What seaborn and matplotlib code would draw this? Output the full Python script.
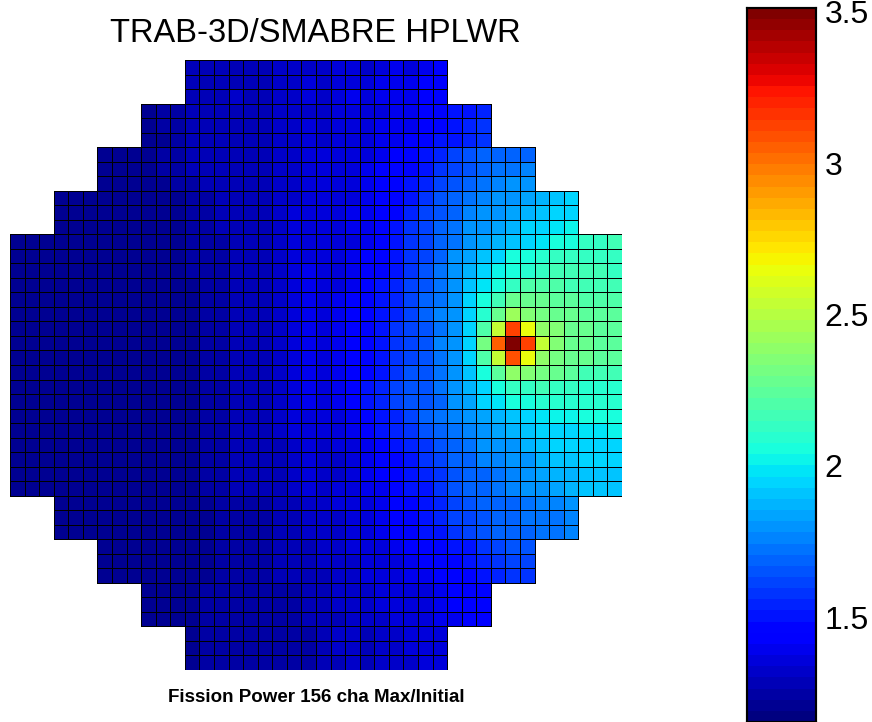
import numpy as np
import pandas as pd
import matplotlib
matplotlib.use('Agg')
import matplotlib.pyplot as plt
from matplotlib.colors import ListedColormap
import seaborn as sns

# Fission power, max/initial, for the 42x42 sub-channel grid (156 channels, 3x3 cells each)
N = np.nan
fission_power = [
    [N]*12 + [1.29,1.28,1.29,1.30,1.29,1.28,1.32,1.31,1.33, 1.31,1.35,1.37,1.33,1.37,1.39,1.37,1.41,1.43] + [N]*12,
    [N]*12 + [1.29,1.29,1.29,1.30,1.30,1.29,1.32,1.32,1.34, 1.32,1.35,1.37,1.34,1.38,1.40,1.38,1.42,1.44] + [N]*12,
    [N]*12 + [1.30,1.29,1.30,1.31,1.30,1.29,1.33,1.32,1.34, 1.32,1.36,1.38,1.35,1.39,1.41,1.40,1.44,1.46] + [N]*12,
    [N]*9 + [1.22,1.23,1.25,1.28,1.28,1.29,1.30,1.29,1.28,1.32,1.31,1.33, 1.31,1.34,1.35,1.34,1.37,1.39,1.39,1.43,1.46,1.49,1.52,1.55] + [N]*9,
    [N]*9 + [1.22,1.23,1.24,1.28,1.29,1.29,1.30,1.30,1.29,1.32,1.32,1.34, 1.32,1.35,1.36,1.35,1.38,1.40,1.41,1.44,1.47,1.50,1.53,1.56] + [N]*9,
    [N]*9 + [1.22,1.22,1.24,1.28,1.29,1.30,1.30,1.30,1.29,1.33,1.32,1.34, 1.33,1.36,1.37,1.36,1.39,1.41,1.43,1.46,1.49,1.52,1.55,1.58] + [N]*9,
    [N]*6 + [1.20,1.21,1.21,1.22,1.23,1.24,1.27,1.28,1.28,1.29,1.29,1.28,1.32,1.32,1.34, 1.34,1.34,1.35,1.37,1.40,1.43,1.46,1.49,1.55,1.61,1.64,1.67,1.67,1.70,1.70] + [N]*6,
    [N]*6 + [1.20,1.21,1.21,1.22,1.23,1.23,1.27,1.28,1.29,1.29,1.30,1.28,1.32,1.33,1.34, 1.34,1.35,1.36,1.38,1.42,1.45,1.48,1.52,1.58,1.63,1.66,1.70,1.72,1.73,1.75] + [N]*6,
    [N]*6 + [1.20,1.20,1.21,1.22,1.22,1.23,1.26,1.27,1.28,1.29,1.30,1.28,1.32,1.33,1.35, 1.34,1.36,1.37,1.39,1.43,1.46,1.50,1.55,1.61,1.66,1.70,1.73,1.75,1.78,1.78] + [N]*6,
    [N]*3 + [1.19,1.19,1.20,1.20,1.20,1.21,1.21,1.22,1.22,1.25,1.26,1.27,1.28,1.29,1.28,1.32,1.33,1.35, 1.34,1.37,1.37,1.38,1.43,1.46,1.52,1.58,1.64,1.67,1.73,1.75,1.78,1.81,1.84,1.87,1.90,1.93] + [N]*3,
    [N]*3 + [1.19,1.19,1.20,1.20,1.20,1.21,1.21,1.21,1.22,1.24,1.26,1.27,1.28,1.29,1.28,1.32,1.34,1.36, 1.34,1.37,1.38,1.39,1.44,1.48,1.54,1.60,1.66,1.70,1.75,1.78,1.81,1.84,1.87,1.90,1.93,1.96] + [N]*3,
    [N]*3 + [1.19,1.19,1.19,1.20,1.20,1.20,1.21,1.21,1.21,1.24,1.25,1.27,1.28,1.29,1.28,1.32,1.34,1.36, 1.34,1.37,1.38,1.40,1.46,1.49,1.56,1.61,1.67,1.73,1.78,1.81,1.84,1.87,1.93,1.96,1.99,2.02] + [N]*3,
    [1.19,1.19,1.19,1.19,1.20,1.20,1.20,1.20,1.21,1.21,1.21,1.20,1.23,1.25,1.26,1.28,1.29,1.28,1.32,1.34,1.37, 1.34,1.37,1.37,1.40,1.46,1.49,1.58,1.61,1.67,1.73,1.78,1.84,1.87,1.90,1.96,1.99,2.05,2.05,2.14,2.14,2.17],
    [1.19,1.19,1.19,1.19,1.19,1.20,1.20,1.20,1.21,1.21,1.21,1.20,1.23,1.25,1.26,1.28,1.29,1.28,1.32,1.35,1.37, 1.34,1.37,1.38,1.42,1.47,1.51,1.58,1.61,1.70,1.78,1.84,1.90,1.96,2.05,2.05,2.11,2.14,2.14,2.14,2.14,2.14],
    [1.19,1.19,1.19,1.19,1.19,1.20,1.20,1.20,1.20,1.21,1.21,1.20,1.23,1.24,1.26,1.28,1.28,1.28,1.32,1.35,1.38, 1.34,1.37,1.38,1.42,1.47,1.51,1.58,1.64,1.73,1.81,1.87,1.96,2.02,2.05,2.11,2.14,2.17,2.17,2.17,2.17,2.14],
    [1.19,1.19,1.19,1.19,1.19,1.19,1.20,1.20,1.20,1.21,1.21,1.20,1.22,1.24,1.25,1.27,1.28,1.28,1.32,1.35,1.39, 1.34,1.37,1.40,1.46,1.49,1.55,1.61,1.64,1.73,1.81,1.90,1.99,2.05,2.14,2.20,2.20,2.20,2.17,2.17,2.17,2.17],
    [1.19,1.19,1.19,1.19,1.19,1.19,1.20,1.20,1.20,1.21,1.20,1.20,1.22,1.24,1.25,1.27,1.28,1.29,1.32,1.36,1.40, 1.34,1.38,1.42,1.46,1.50,1.55,1.61,1.67,1.73,1.81,1.93,2.05,2.17,2.26,2.26,2.26,2.23,2.23,2.20,2.20,2.20],
    [1.19,1.19,1.19,1.19,1.19,1.19,1.20,1.20,1.20,1.21,1.20,1.20,1.22,1.24,1.25,1.27,1.28,1.29,1.32,1.36,1.40, 1.34,1.38,1.42,1.46,1.50,1.55,1.61,1.70,1.75,1.81,1.93,2.11,2.29,2.43,2.34,2.32,2.29,2.26,2.23,2.23,2.23],
    [1.19,1.19,1.19,1.19,1.19,1.19,1.20,1.20,1.20,1.21,1.20,1.20,1.22,1.24,1.25,1.27,1.28,1.29,1.33,1.36,1.41, 1.35,1.40,1.43,1.46,1.52,1.58,1.61,1.64,1.73,1.81,1.93,2.20,2.55,3.11,2.64,2.40,2.34,2.29,2.26,2.23,2.23],
    [1.19,1.19,1.19,1.19,1.19,1.19,1.20,1.20,1.20,1.21,1.20,1.20,1.22,1.24,1.25,1.27,1.28,1.29,1.33,1.36,1.41, 1.35,1.40,1.43,1.46,1.52,1.58,1.61,1.64,1.75,1.81,1.96,2.31,3.05,3.52,3.14,2.52,2.34,2.29,2.26,2.23,2.23],
    [1.19,1.19,1.19,1.19,1.19,1.19,1.20,1.20,1.20,1.21,1.20,1.20,1.22,1.24,1.25,1.27,1.28,1.29,1.33,1.36,1.41, 1.35,1.40,1.43,1.46,1.52,1.58,1.61,1.64,1.73,1.81,1.96,2.20,2.55,3.08,2.64,2.40,2.31,2.29,2.26,2.23,2.23],
    [1.19,1.19,1.19,1.19,1.19,1.19,1.20,1.20,1.20,1.21,1.20,1.20,1.22,1.24,1.25,1.27,1.28,1.29,1.33,1.36,1.40, 1.34,1.40,1.43,1.46,1.52,1.58,1.64,1.64,1.73,1.81,1.90,2.05,2.23,2.40,2.34,2.31,2.26,2.23,2.17,2.17,2.17],
    [1.19,1.19,1.19,1.19,1.19,1.19,1.20,1.20,1.20,1.21,1.20,1.20,1.22,1.24,1.25,1.27,1.28,1.28,1.32,1.35,1.39, 1.34,1.40,1.44,1.49,1.55,1.61,1.64,1.64,1.73,1.78,1.87,1.96,2.05,2.14,2.14,2.17,2.14,2.14,2.11,2.11,2.11],
    [1.19,1.19,1.19,1.19,1.19,1.19,1.20,1.20,1.20,1.21,1.20,1.20,1.22,1.24,1.25,1.27,1.28,1.28,1.32,1.35,1.39, 1.34,1.40,1.44,1.49,1.55,1.61,1.64,1.64,1.70,1.78,1.84,1.93,1.99,2.05,2.05,2.08,2.11,2.11,2.08,2.08,2.11],
    [1.19,1.19,1.19,1.19,1.19,1.20,1.20,1.20,1.20,1.21,1.21,1.20,1.22,1.24,1.25,1.27,1.28,1.28,1.31,1.34,1.37, 1.34,1.37,1.40,1.46,1.52,1.55,1.61,1.67,1.73,1.75,1.78,1.84,1.87,1.90,1.96,1.99,2.02,2.02,2.05,2.05,2.05],
    [1.19,1.19,1.19,1.19,1.19,1.20,1.20,1.20,1.20,1.21,1.21,1.20,1.22,1.24,1.25,1.27,1.28,1.28,1.31,1.34,1.37, 1.34,1.37,1.40,1.43,1.49,1.55,1.58,1.64,1.70,1.73,1.75,1.81,1.84,1.87,1.90,1.93,1.96,1.96,1.99,1.99,2.02],
    [1.19,1.19,1.19,1.19,1.20,1.20,1.20,1.20,1.21,1.21,1.21,1.20,1.22,1.24,1.25,1.27,1.28,1.28,1.30,1.32,1.34, 1.31,1.34,1.37,1.40,1.46,1.49,1.55,1.58,1.64,1.70,1.73,1.78,1.81,1.81,1.87,1.90,1.93,1.93,1.96,1.96,1.96],
    [1.19,1.19,1.19,1.19,1.20,1.20,1.20,1.20,1.21,1.21,1.21,1.20,1.22,1.24,1.25,1.27,1.28,1.28,1.30,1.32,1.34, 1.31,1.31,1.37,1.40,1.46,1.46,1.52,1.58,1.61,1.67,1.70,1.75,1.75,1.78,1.81,1.87,1.90,1.90,1.93,1.93,1.93],
    [1.19,1.19,1.19,1.19,1.20,1.20,1.20,1.21,1.21,1.21,1.21,1.21,1.22,1.24,1.25,1.27,1.28,1.28,1.30,1.32,1.34, 1.31,1.31,1.34,1.40,1.43,1.46,1.49,1.55,1.58,1.64,1.67,1.70,1.73,1.75,1.78,1.84,1.87,1.87,1.90,1.90,1.90],
    [1.19,1.19,1.19,1.19,1.20,1.20,1.20,1.21,1.21,1.21,1.21,1.21,1.22,1.24,1.25,1.27,1.28,1.28,1.30,1.32,1.34, 1.31,1.34,1.34,1.40,1.40,1.46,1.49,1.52,1.58,1.64,1.67,1.70,1.73,1.75,1.78,1.81,1.84,1.87,1.90,1.90,1.90],
    [N]*3 + [1.19,1.19,1.19,1.19,1.20,1.20,1.20,1.21,1.21,1.21,1.22,1.23,1.25,1.26,1.26,1.29,1.30,1.32, 1.31,1.34,1.34,1.37,1.40,1.46,1.46,1.49,1.55,1.61,1.64,1.67,1.70,1.70,1.73,1.75,1.75,1.78] + [N]*3,
    [N]*3 + [1.19,1.19,1.19,1.19,1.20,1.20,1.20,1.21,1.21,1.21,1.22,1.23,1.25,1.26,1.26,1.29,1.30,1.32, 1.31,1.33,1.34,1.37,1.40,1.44,1.46,1.49,1.54,1.60,1.62,1.66,1.69,1.69,1.72,1.74,1.74,1.77] + [N]*3,
    [N]*3 + [1.19,1.19,1.19,1.19,1.20,1.20,1.20,1.21,1.21,1.21,1.22,1.23,1.25,1.26,1.26,1.29,1.30,1.32, 1.31,1.31,1.34,1.37,1.40,1.43,1.46,1.49,1.52,1.58,1.61,1.64,1.67,1.67,1.70,1.73,1.73,1.75] + [N]*3,
    [N]*6 + [1.19,1.20,1.20,1.20,1.21,1.21,1.21,1.22,1.23,1.24,1.25,1.25,1.27,1.28,1.29, 1.31,1.31,1.34,1.34,1.37,1.40,1.43,1.46,1.46,1.49,1.52,1.58,1.61,1.64,1.64] + [N]*6,
    [N]*6 + [1.19,1.20,1.20,1.20,1.21,1.21,1.21,1.22,1.23,1.24,1.25,1.25,1.27,1.28,1.29, 1.31,1.31,1.31,1.34,1.37,1.37,1.40,1.43,1.46,1.46,1.49,1.55,1.58,1.61,1.61] + [N]*6,
    [N]*6 + [1.19,1.20,1.20,1.20,1.21,1.21,1.21,1.22,1.23,1.24,1.25,1.25,1.27,1.28,1.29, 1.28,1.31,1.31,1.34,1.34,1.37,1.40,1.40,1.43,1.46,1.46,1.52,1.55,1.58,1.58] + [N]*6,
    [N]*9 + [1.20,1.21,1.21,1.22,1.23,1.23,1.24,1.24,1.24,1.26,1.26,1.27, 1.28,1.31,1.31,1.31,1.34,1.34,1.37,1.37,1.40,1.43,1.43,1.46] + [N]*9,
    [N]*9 + [1.20,1.21,1.21,1.22,1.23,1.23,1.24,1.24,1.24,1.26,1.26,1.27, 1.28,1.31,1.31,1.31,1.34,1.34,1.37,1.37,1.40,1.42,1.43,1.45] + [N]*9,
    [N]*9 + [1.20,1.21,1.21,1.22,1.23,1.23,1.24,1.24,1.24,1.26,1.26,1.27, 1.28,1.30,1.31,1.31,1.33,1.34,1.36,1.37,1.39,1.41,1.42,1.44] + [N]*9,
    [N]*12 + [1.22,1.23,1.23,1.24,1.24,1.24,1.25,1.26,1.26, 1.28,1.31,1.31,1.30,1.31,1.33,1.34,1.35,1.37] + [N]*12,
    [N]*12 + [1.22,1.23,1.23,1.24,1.24,1.24,1.25,1.26,1.26, 1.28,1.31,1.31,1.30,1.31,1.33,1.34,1.35,1.37] + [N]*12,
    [N]*12 + [1.22,1.23,1.23,1.24,1.24,1.24,1.25,1.26,1.26, 1.28,1.30,1.31,1.30,1.31,1.32,1.33,1.35,1.36] + [N]*12,
]
cbar_ticks = [1.5, 2, 2.5, 3, 3.5]
cbar_labels = ['1.5', '2', '2.5', '3', '3.5']

sns.set_style('white')
plt.rcParams['font.family'] = ['Liberation Sans', 'DejaVu Sans']
plt.rcParams['text.color'] = 'black'
plt.rcParams['ytick.color'] = 'black'

df = pd.DataFrame(fission_power)

fig = plt.figure(figsize=(8.72, 7.22), dpi=100)
ax = fig.add_axes([10/872, 52/722, 612/872, 610/722])
cax = fig.add_axes([747/872, 0.0, 69/872, 714/722])

# coloured cells
sns.heatmap(df, ax=ax, cmap=plt.get_cmap('jet', 64), vmin=1.153, vmax=3.513,
            linewidths=0, cbar_ax=cax, xticklabels=False, yticklabels=False)

# cell borders on top, same grid, transparent faces, only where there is a channel
sns.heatmap(df, ax=ax, cmap=ListedColormap([(0, 0, 0, 0)]), cbar=False,
            linewidths=0.7, linecolor='black', xticklabels=False, yticklabels=False)
grid = ax.collections[1]
inside = ~np.isnan(df.to_numpy()).ravel()
edge_cols = np.zeros((inside.size, 4))
edge_cols[inside, 3] = 1.0
grid.set_edgecolors(edge_cols)
grid.set_linewidth(0.7)

fig.text(315/872, 1 - 33/722, 'TRAB-3D/SMABRE HPLWR', ha='center', va='center', fontsize=23.5)
fig.text(316/872, 1 - 697/722, 'Fission Power 156 cha Max/Initial', ha='center', va='center',
         fontsize=13.5, fontweight='bold')

cax.set_yticks(cbar_ticks)
cax.set_yticklabels(cbar_labels)
cax.tick_params(axis='y', which='both', direction='in', length=5, width=1, labelsize=23,
                left=True, right=True, labelleft=False, labelright=True, pad=6,
                colors='black')
for s in cax.spines.values():
    s.set_visible(True)
    s.set_color('black')
    s.set_linewidth(1.5)

fig.savefig('out.png', dpi=100)
